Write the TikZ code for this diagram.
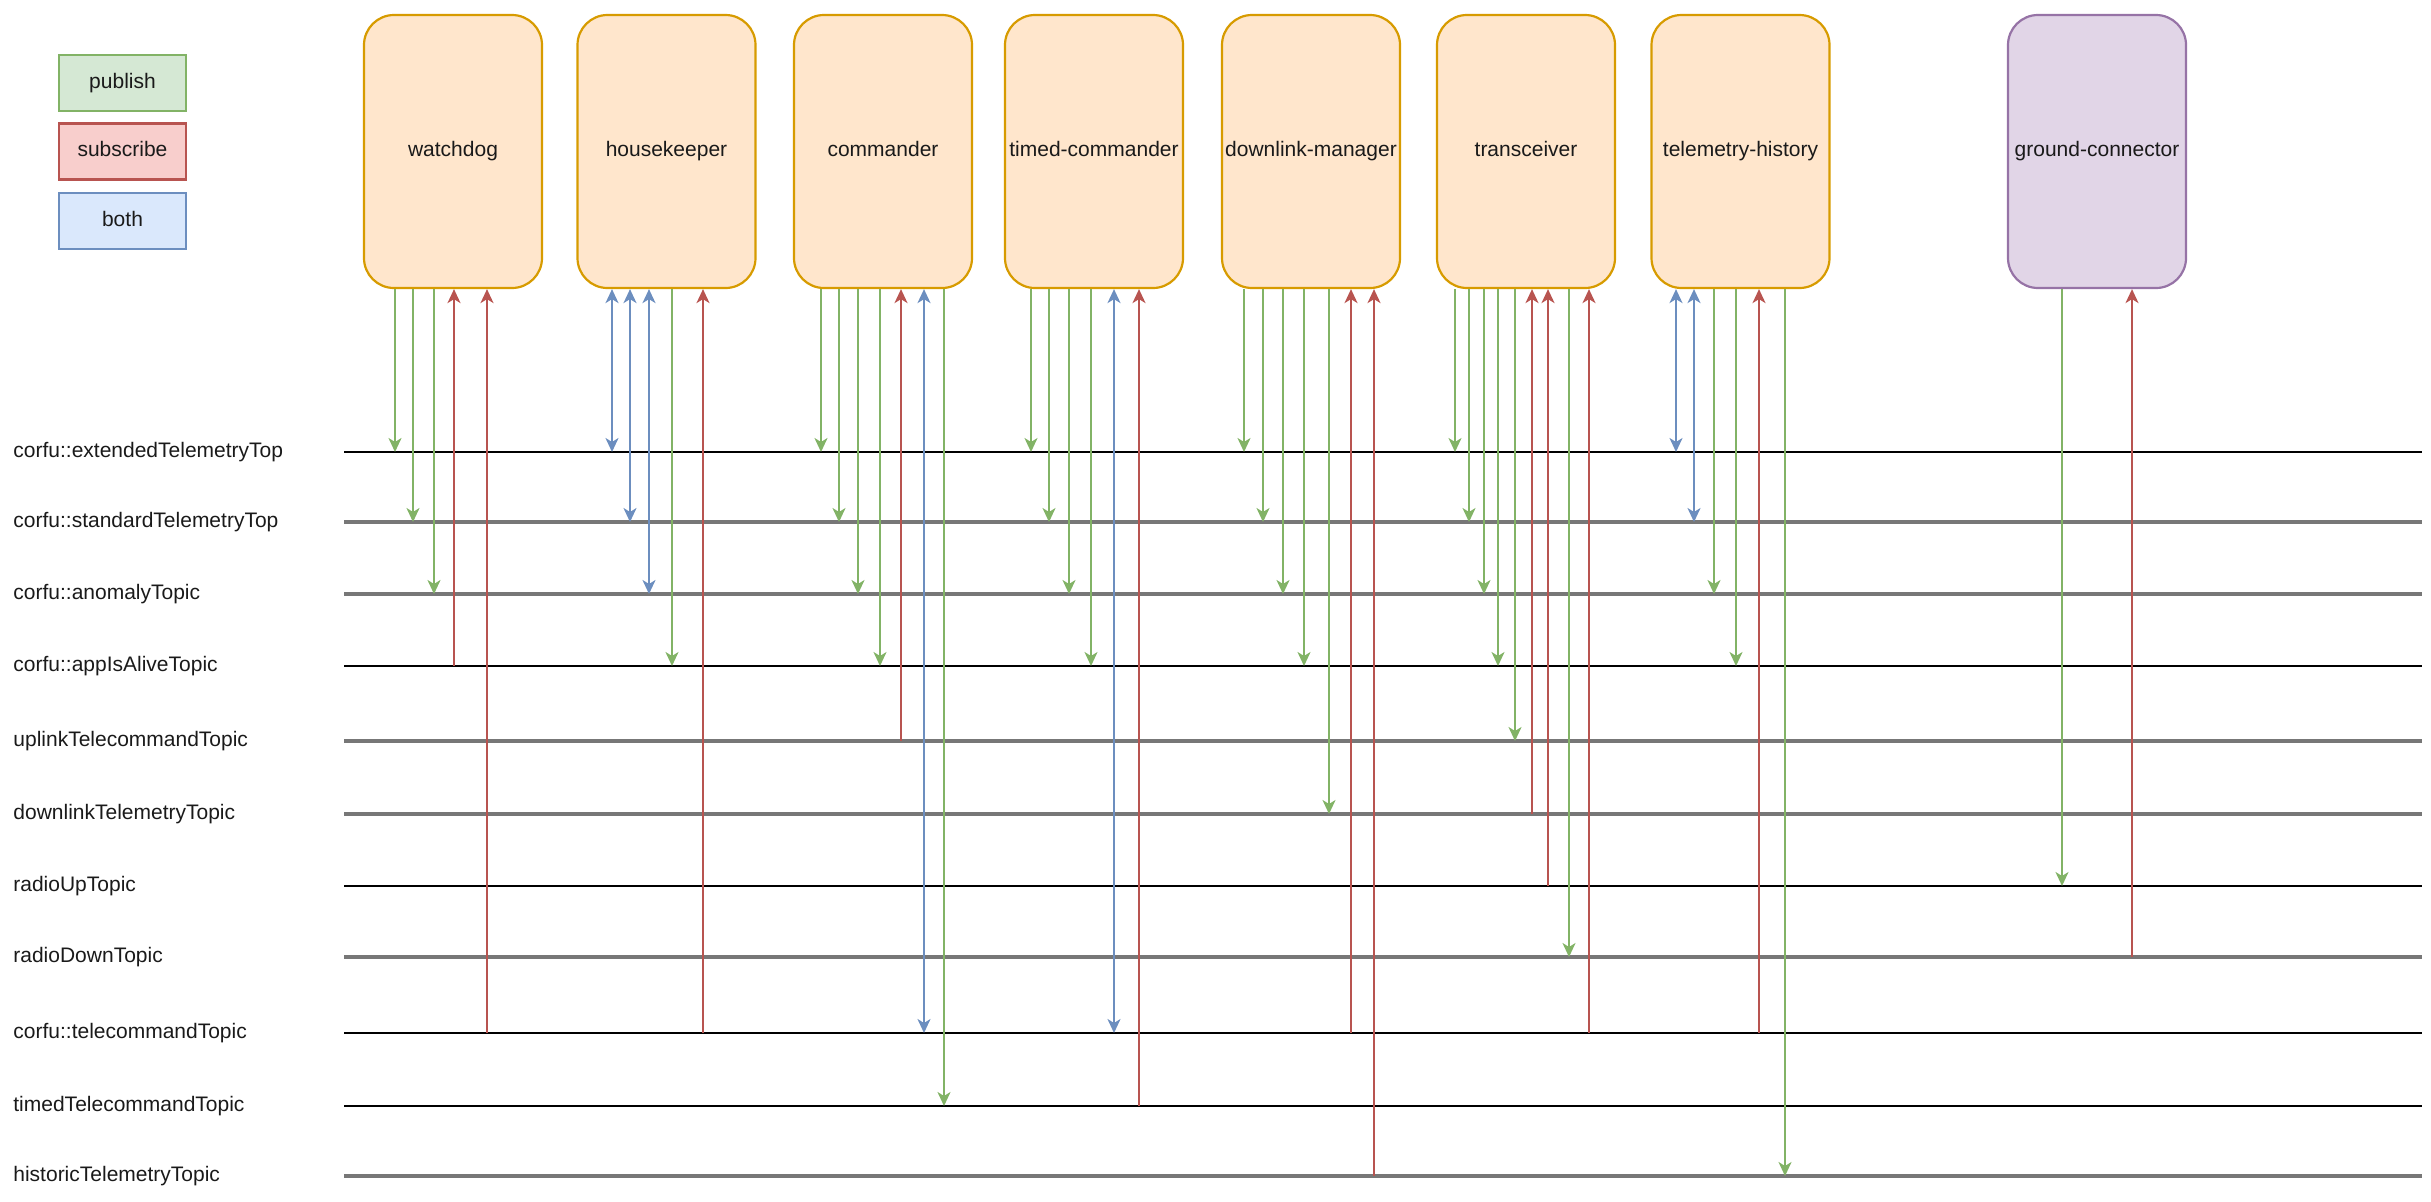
\documentclass[tikz,border=0pt]{standalone}
\usepackage{fontspec}
\setmainfont{Liberation Sans}
\usetikzlibrary{arrows.meta}
\definecolor{pubc}{HTML}{82B366}
\definecolor{subc}{HTML}{B85450}
\definecolor{bothc}{HTML}{6C8EBF}
\definecolor{procfill}{HTML}{FFE6CC}
\definecolor{procdraw}{HTML}{D79B00}
\definecolor{gndfill}{HTML}{E1D5E7}
\definecolor{gnddraw}{HTML}{9673A6}
\definecolor{pubfill}{HTML}{D5E8D4}
\definecolor{subfill}{HTML}{F8CECC}
\definecolor{bothfill}{HTML}{DAE8FC}
\definecolor{topicgrey}{HTML}{777777}
\definecolor{txt}{HTML}{1A1A1A}
\newcommand\lnk[4]{\coordinate (lk) at (#2,0);\draw[#4] (#1.south -| lk) -- (#3 -| lk);}
\begin{document}
\begin{tikzpicture}[x=0.5pt,y=-0.5pt,
  every node/.style={font=\fontsize{10.5}{12.6}\selectfont,text=txt},
  proc/.style={draw=procdraw,fill=procfill,line width=1.1pt,rounded corners=15pt,minimum width=89pt,minimum height=136.5pt,inner sep=1pt,text height=7.6pt,text depth=2.2pt},
  gnd/.style={proc,draw=gnddraw,fill=gndfill},
  legend/.style={line width=1.1pt,minimum width=63.5pt,minimum height=28pt,inner sep=1pt,text height=7.6pt,text depth=2.2pt},
  topicblack/.style={line width=1.2pt,black},
  topicgreyl/.style={line width=1.8pt,topicgrey},
  toplabel/.style={anchor=west,inner sep=0pt,text height=7.6pt,text depth=2.2pt},
  pub/.style={pubc,line width=1pt,-{Stealth[length=7pt,width=6.5pt,inset=2pt]}},
  sub/.style={subc,line width=1pt,{Stealth[length=7pt,width=6.5pt,inset=2pt]}-},
  both/.style={bothc,line width=1pt,{Stealth[length=7pt,width=6.5pt,inset=2pt]}-{Stealth[length=7pt,width=6.5pt,inset=2pt]}}]
\useasboundingbox (0,0) rectangle (2431,1201);

% legend
\node[legend,draw=pubc,fill=pubfill] (lgpub) at (122.5,83) {publish};
\node[legend,draw=subc,fill=subfill] (lgsub) at (122.5,151.5) {subscribe};
\node[legend,draw=bothc,fill=bothfill] (lgboth) at (122.5,221) {both};

% processes
\node[proc] (wd) at (453,151.5) {watchdog};
\node[proc] (hk) at (666.5,151.5) {housekeeper};
\node[proc] (cm) at (883,151.5) {commander};
\node[proc] (tc) at (1094,151.5) {timed-commander};
\node[proc] (dm) at (1311,151.5) {downlink-manager};
\node[proc] (tr) at (1526,151.5) {transceiver};
\node[proc] (th) at (1740.5,151.5) {telemetry-history};
\node[gnd] (gc) at (2097,151.5) {ground-connector};

% topics
\foreach \n/\y/\t in {
  L1/452/{corfu::extendedTelemetryTop},
  L2/522/{corfu::standardTelemetryTop},
  L3/594/{corfu::anomalyTopic},
  L4/666/{corfu::appIsAliveTopic},
  L5/741/{uplinkTelecommandTopic},
  L6/814/{downlinkTelemetryTopic},
  L7/886/{radioUpTopic},
  L8/957/{radioDownTopic},
  L9/1033/{corfu::telecommandTopic},
  L10/1106/{timedTelecommandTopic},
  L11/1176/{historicTelemetryTopic}}{
  \coordinate (\n) at (344,\y);
  \coordinate (\n e) at (2422,\y);
  \node[toplabel] (\n lab) at (13,\y) {\t};
}
\draw[topicblack] (L1) -- (L1e);
\draw[topicgreyl] (L2) -- (L2e);
\draw[topicgreyl] (L3) -- (L3e);
\draw[topicblack] (L4) -- (L4e);
\draw[topicgreyl] (L5) -- (L5e);
\draw[topicgreyl] (L6) -- (L6e);
\draw[topicblack] (L7) -- (L7e);
\draw[topicgreyl] (L8) -- (L8e);
\draw[topicblack] (L9) -- (L9e);
\draw[topicblack] (L10) -- (L10e);
\draw[topicgreyl] (L11) -- (L11e);

% watchdog
\lnk{wd}{395}{L1}{pub}
\lnk{wd}{413}{L2}{pub}
\lnk{wd}{434}{L3}{pub}
\lnk{wd}{454}{L4}{sub}
\lnk{wd}{487}{L9}{sub}
% housekeeper
\lnk{hk}{612}{L1}{both}
\lnk{hk}{630}{L2}{both}
\lnk{hk}{649}{L3}{both}
\lnk{hk}{672}{L4}{pub}
\lnk{hk}{703}{L9}{sub}
% commander
\lnk{cm}{821}{L1}{pub}
\lnk{cm}{839}{L2}{pub}
\lnk{cm}{858}{L3}{pub}
\lnk{cm}{880}{L4}{pub}
\lnk{cm}{901}{L5}{sub}
\lnk{cm}{924}{L9}{both}
\lnk{cm}{944}{L10}{pub}
% timed-commander
\lnk{tc}{1031}{L1}{pub}
\lnk{tc}{1049}{L2}{pub}
\lnk{tc}{1069}{L3}{pub}
\lnk{tc}{1091}{L4}{pub}
\lnk{tc}{1114}{L9}{both}
\lnk{tc}{1139}{L10}{sub}
% downlink-manager
\lnk{dm}{1244}{L1}{pub}
\lnk{dm}{1263}{L2}{pub}
\lnk{dm}{1283}{L3}{pub}
\lnk{dm}{1304}{L4}{pub}
\lnk{dm}{1329}{L6}{pub}
\lnk{dm}{1351}{L9}{sub}
\lnk{dm}{1374}{L11}{sub}
% transceiver
\lnk{tr}{1455}{L1}{pub}
\lnk{tr}{1469}{L2}{pub}
\lnk{tr}{1484}{L3}{pub}
\lnk{tr}{1498}{L4}{pub}
\lnk{tr}{1515}{L5}{pub}
\lnk{tr}{1532}{L6}{sub}
\lnk{tr}{1548}{L7}{sub}
\lnk{tr}{1569}{L8}{pub}
\lnk{tr}{1589}{L9}{sub}
% telemetry-history
\lnk{th}{1676}{L1}{both}
\lnk{th}{1694}{L2}{both}
\lnk{th}{1714}{L3}{pub}
\lnk{th}{1736}{L4}{pub}
\lnk{th}{1759}{L9}{sub}
\lnk{th}{1785}{L11}{pub}
% ground-connector
\lnk{gc}{2062}{L7}{pub}
\lnk{gc}{2132}{L8}{sub}
\end{tikzpicture}
\end{document}
